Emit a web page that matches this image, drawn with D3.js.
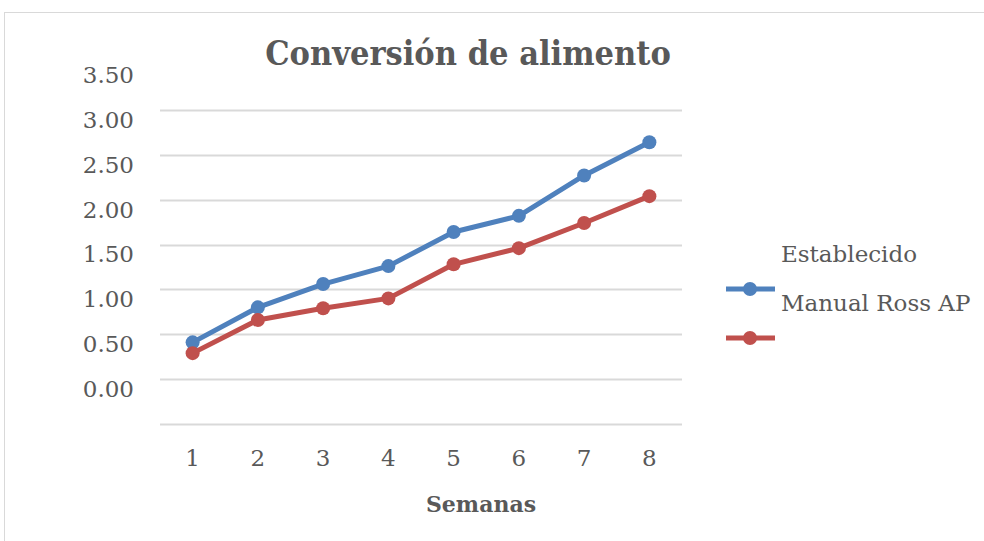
<!DOCTYPE html>
<html>
<head>
<meta charset="utf-8">
<script src="https://cdn.jsdelivr.net/npm/d3@7"></script>
<style>
  body { margin: 0; background: #fff; }
  text { font-family: "DejaVu Serif", serif; fill: #595959; }
</style>
</head>
<body>
<div id="root"></div>
<script>
var width = 984;
var height = 541;

var semanas = ['1', '2', '3', '4', '5', '6', '7', '8'];
var establecido = [0.91, 1.30, 1.56, 1.76, 2.14, 2.32, 2.77, 3.14];
var manualRoss = [0.79, 1.16, 1.29, 1.40, 1.78, 1.96, 2.24, 2.54];
var yTicks = [0, 0.5, 1, 1.5, 2, 2.5, 3, 3.5];
var seriesNames = ['Establecido', 'Manual Ross AP'];
var colors = ['#4F81BD', '#C0504D'];

var svg = d3.select('#root')
    .append('svg')
    .attr('width', width).attr('height', height);

// chart frame
svg.append('rect')
    .attr('x', 4.5).attr('y', 12.5)
    .attr('width', 990).attr('height', 540)
    .attr('fill', 'none')
    .attr('stroke', '#D9D9D9');

var plot = { left: 160, right: 682, top: 110, bottom: 424 };

var xScale = d3.scaleBand()
    .domain(semanas)
    .range([plot.left, plot.right]);
var yScale = d3.scaleLinear()
    .domain([0, 3.5])
    .range([plot.bottom, plot.top]);

// gridlines
svg.selectAll('.grid')
    .data(yTicks).enter()
    .append('line')
    .attr('class', 'grid')
    .attr('x1', plot.left).attr('x2', plot.right)
    .attr('y1', function (d) { return Math.round(yScale(d)) + 0.5; })
    .attr('y2', function (d) { return Math.round(yScale(d)) + 0.5; })
    .attr('stroke', '#D9D9D9')
    .attr('stroke-width', 2);

// y labels (sit higher than their gridlines, as in the original)
svg.selectAll('.ylab')
    .data(yTicks).enter()
    .append('text')
    .attr('class', 'ylab')
    .attr('x', 134)
    .attr('y', function (d) { return yScale(d) - 35; })
    .attr('dy', '0.35em')
    .attr('text-anchor', 'end')
    .style('font-size', '23px')
    .text(function (d) { return d3.format('.2f')(d); });

// x labels
svg.selectAll('.xlab')
    .data(semanas).enter()
    .append('text')
    .attr('class', 'xlab')
    .attr('x', function (d) { return xScale(d) + xScale.bandwidth() / 2; })
    .attr('y', 458)
    .attr('dy', '0.35em')
    .attr('text-anchor', 'middle')
    .style('font-size', '23px')
    .text(function (d) { return d; });

svg.append('text')
    .attr('x', 481).attr('y', 504)
    .attr('dy', '0.35em')
    .attr('text-anchor', 'middle')
    .style('font-size', '22px')
    .style('font-weight', 'bold')
    .text('Semanas');

svg.append('text')
    .attr('x', 468).attr('y', 53)
    .attr('dy', '0.35em')
    .attr('text-anchor', 'middle')
    .style('font-family', '"DejaVu Serif Condensed", "DejaVu Serif", serif')
    .style('font-size', '34px')
    .style('font-weight', 'bold')
    .text('Conversión de alimento');

var line = d3.line()
    .x(function (d, i) { return xScale(semanas[i]) + xScale.bandwidth() / 2; })
    .y(function (d) { return yScale(d); });

[establecido, manualRoss].forEach(function (vals, s) {
    svg.append('path')
        .datum(vals)
        .attr('d', line)
        .attr('fill', 'none')
        .attr('stroke', colors[s])
        .attr('stroke-width', 5)
        .attr('stroke-linejoin', 'round');
    svg.selectAll('.dot' + s)
        .data(vals).enter()
        .append('circle')
        .attr('class', 'dot' + s)
        .attr('cx', function (d, i) { return xScale(semanas[i]) + xScale.bandwidth() / 2; })
        .attr('cy', function (d) { return yScale(d); })
        .attr('r', 7)
        .attr('fill', colors[s]);
});

// legend
var legendY = [289, 338];
seriesNames.forEach(function (name, s) {
    svg.append('line')
        .attr('x1', 726).attr('x2', 775)
        .attr('y1', legendY[s]).attr('y2', legendY[s])
        .attr('stroke', colors[s])
        .attr('stroke-width', 5);
    svg.append('circle')
        .attr('cx', 750).attr('cy', legendY[s])
        .attr('r', 7)
        .attr('fill', colors[s]);
    svg.append('text')
        .attr('x', 781)
        .attr('y', legendY[s] - 35)
        .attr('dy', '0.35em')
        .style('font-size', '23px')
        .text(name);
});
</script>
</body>
</html>
